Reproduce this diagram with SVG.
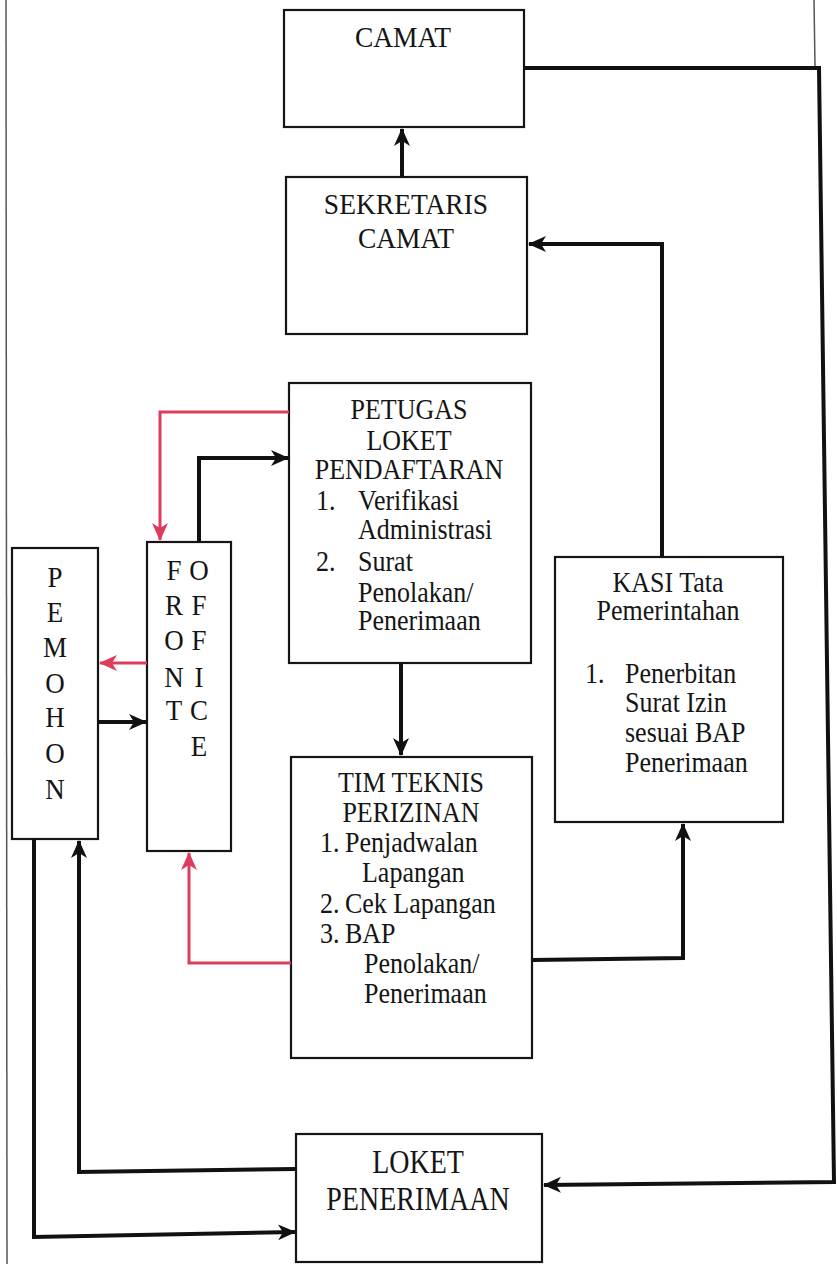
<svg xmlns="http://www.w3.org/2000/svg" width="837" height="1264" viewBox="0 0 837 1264">
<style>
.box{fill:#fff;stroke:#151515;stroke-width:2.2}
text{font-family:'Liberation Serif','DejaVu Serif',serif;fill:#151515}
.t{font-size:26px}
.h{font-size:27.5px}
.l{font-size:28px}
.c{text-anchor:middle}
.v{font-size:27px;text-anchor:middle}
.k{fill:none;stroke:#111;stroke-width:4;stroke-linejoin:miter}
.r{fill:none;stroke:#de3c5c;stroke-width:3}
.edge{stroke:#555;stroke-width:1.5;fill:none}
</style>
<defs>
<marker id="ak" markerUnits="userSpaceOnUse" markerWidth="20" markerHeight="18" refX="17" refY="8" orient="auto">
<path d="M0,0 L18,8 L0,16 L5,8 Z" fill="#111"/>
</marker>
<marker id="ar" markerUnits="userSpaceOnUse" markerWidth="20" markerHeight="18" refX="17" refY="8" orient="auto">
<path d="M0,0 L18,8 L0,16 L5,8 Z" fill="#de3c5c"/>
</marker>
</defs>
<rect width="837" height="1264" fill="#fff"/>
<line class="edge" x1="6" y1="0" x2="7" y2="1264"/>
<line class="edge" x1="814" y1="0" x2="815" y2="66"/>

<g id="camat">
<rect class="box" x="284" y="10" width="240" height="117"/>
<text class="h c" x="403" y="47" transform="matrix(1 0 0 1.1 0 -4.7)">CAMAT</text>
</g>
<g id="sekretaris">
<rect class="box" x="286" y="177" width="241" height="157"/>
<text class="h c" x="406" y="214" transform="matrix(1 0 0 1.1 0 -21.4)">SEKRETARIS</text>
<text class="h c" x="406" y="248" transform="matrix(1 0 0 1.1 0 -24.8)">CAMAT</text>
</g>
<g id="petugas">
<rect class="box" x="289" y="383" width="242" height="280"/>
<text class="t c" x="409" y="419" transform="matrix(1 0 0 1.12 0 -50.28)">PETUGAS</text>
<text class="t c" x="409" y="450" transform="matrix(1 0 0 1.12 0 -54)">LOKET</text>
<text class="t c" x="409" y="479" transform="matrix(1 0 0 1.12 0 -57.48)">PENDAFTARAN</text>
<text class="t" x="316" y="510" transform="matrix(1 0 0 1.12 0 -61.2)">1.</text>
<text class="t" x="358" y="510" transform="matrix(1 0 0 1.12 0 -61.2)">Verifikasi</text>
<text class="t" x="358" y="539" transform="matrix(1 0 0 1.12 0 -64.68)">Administrasi</text>
<text class="t" x="316" y="571" transform="matrix(1 0 0 1.12 0 -68.52)">2.</text>
<text class="t" x="358" y="571" transform="matrix(1 0 0 1.12 0 -68.52)">Surat</text>
<text class="t" x="358" y="602" transform="matrix(1 0 0 1.12 0 -72.24)">Penolakan/</text>
<text class="t" x="358" y="630" transform="matrix(1 0 0 1.12 0 -75.6)">Penerimaan</text>
</g>
<g id="pemohon">
<rect class="box" x="12" y="548" width="86" height="291"/>
<text class="v" x="55" y="587" transform="matrix(1 0 0 1.12 0 -70.44)">P</text>
<text class="v" x="55" y="622" transform="matrix(1 0 0 1.12 0 -74.64)">E</text>
<text class="v" x="55" y="657" transform="matrix(1 0 0 1.12 0 -78.84)">M</text>
<text class="v" x="55" y="693" transform="matrix(1 0 0 1.12 0 -83.16)">O</text>
<text class="v" x="55" y="727" transform="matrix(1 0 0 1.12 0 -87.24)">H</text>
<text class="v" x="55" y="763" transform="matrix(1 0 0 1.12 0 -91.56)">O</text>
<text class="v" x="55" y="799" transform="matrix(1 0 0 1.12 0 -95.88)">N</text>
</g>
<g id="front-office">
<rect class="box" x="147" y="542" width="84" height="309"/>
<text class="v" x="174" y="580" transform="matrix(1 0 0 1.12 0 -69.6)">F</text>
<text class="v" x="174" y="615" transform="matrix(1 0 0 1.12 0 -73.8)">R</text>
<text class="v" x="174" y="650" transform="matrix(1 0 0 1.12 0 -78)">O</text>
<text class="v" x="174" y="687" transform="matrix(1 0 0 1.12 0 -82.44)">N</text>
<text class="v" x="174" y="720" transform="matrix(1 0 0 1.12 0 -86.4)">T</text>
<text class="v" x="199" y="580" transform="matrix(1 0 0 1.12 0 -69.6)">O</text>
<text class="v" x="199" y="615" transform="matrix(1 0 0 1.12 0 -73.8)">F</text>
<text class="v" x="199" y="650" transform="matrix(1 0 0 1.12 0 -78)">F</text>
<text class="v" x="199" y="687" transform="matrix(1 0 0 1.12 0 -82.44)">I</text>
<text class="v" x="199" y="720" transform="matrix(1 0 0 1.12 0 -86.4)">C</text>
<text class="v" x="199" y="756" transform="matrix(1 0 0 1.12 0 -90.72)">E</text>
</g>
<g id="tim-teknis">
<rect class="box" x="291" y="757" width="241" height="301"/>
<text class="t c" x="411" y="792" transform="matrix(1 0 0 1.12 0 -95.04)">TIM TEKNIS</text>
<text class="t c" x="411" y="822" transform="matrix(1 0 0 1.12 0 -98.64)">PERIZINAN</text>
<text class="t" x="320" y="852" transform="matrix(1 0 0 1.12 0 -102.24)">1.</text>
<text class="t" x="345" y="852" transform="matrix(1 0 0 1.12 0 -102.24)">Penjadwalan</text>
<text class="t" x="362" y="882" transform="matrix(1 0 0 1.12 0 -105.84)">Lapangan</text>
<text class="t" x="320" y="913" transform="matrix(1 0 0 1.12 0 -109.56)">2.</text>
<text class="t" x="345" y="913" transform="matrix(1 0 0 1.12 0 -109.56)">Cek Lapangan</text>
<text class="t" x="320" y="943" transform="matrix(1 0 0 1.12 0 -113.16)">3.</text>
<text class="t" x="345" y="943" transform="matrix(1 0 0 1.12 0 -113.16)">BAP</text>
<text class="t" x="364" y="973" transform="matrix(1 0 0 1.12 0 -116.76)">Penolakan/</text>
<text class="t" x="364" y="1003" transform="matrix(1 0 0 1.12 0 -120.36)">Penerimaan</text>
</g>
<g id="kasi">
<rect class="box" x="555" y="557" width="228" height="265"/>
<text class="t c" x="668" y="592" transform="matrix(1 0 0 1.12 0 -71.04)">KASI Tata</text>
<text class="t c" x="668" y="620" transform="matrix(1 0 0 1.12 0 -74.4)">Pemerintahan</text>
<text class="t" x="585" y="683" transform="matrix(1 0 0 1.12 0 -81.96)">1.</text>
<text class="t" x="625" y="683" transform="matrix(1 0 0 1.12 0 -81.96)">Penerbitan</text>
<text class="t" x="625" y="712" transform="matrix(1 0 0 1.12 0 -85.44)">Surat Izin</text>
<text class="t" x="625" y="742" transform="matrix(1 0 0 1.12 0 -89.04)">sesuai BAP</text>
<text class="t" x="625" y="772" transform="matrix(1 0 0 1.12 0 -92.64)">Penerimaan</text>
</g>
<g id="loket-penerimaan">
<rect class="box" x="296" y="1134" width="246" height="128"/>
<text class="l c" x="418" y="1173" transform="matrix(1 0 0 1.2 0 -234.6)">LOKET</text>
<text class="l c" x="418" y="1210" transform="matrix(1 0 0 1.2 0 -242)">PENERIMAAN</text>
</g>

<g id="connectors">
<path class="k" d="M402,177 L402,129" marker-end="url(#ak)"/>
<path class="k" d="M524,68 L819,68 L834,1182 L544,1185" marker-end="url(#ak)"/>
<path class="k" d="M662,557 L662,244 L529,244" marker-end="url(#ak)"/>
<path class="k" d="M199,542 L199,458 L288,458" marker-end="url(#ak)"/>
<path class="k" d="M401,663 L401,755" marker-end="url(#ak)"/>
<path class="k" d="M98,722 L146,722" marker-end="url(#ak)"/>
<path class="k" d="M532,960 L683,958 L683,824" marker-end="url(#ak)"/>
<path class="k" d="M296,1169 L79,1172 L79,841" marker-end="url(#ak)"/>
<path class="k" d="M34,839 L34,1237 L295,1232" marker-end="url(#ak)"/>
<path class="r" d="M289,412 L160,412 L160,540" marker-end="url(#ar)"/>
<path class="r" d="M147,663 L100,663" marker-end="url(#ar)"/>
<path class="r" d="M291,963 L189,963 L189,853" marker-end="url(#ar)"/>
</g>
</svg>
